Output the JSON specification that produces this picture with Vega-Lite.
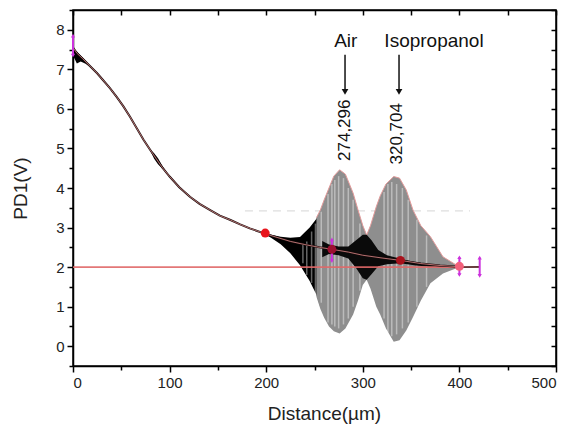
{
  "$schema": "https://vega.github.io/schema/vega-lite/v6.json",
  "width": 483,
  "height": 356,
  "autosize": {"type": "none"},
  "padding": {"left": 73, "top": 10, "right": 15, "bottom": 60},
  "background": "#ffffff",
  "config": {
    "view": {"stroke": "#000000", "strokeWidth": 1.5},
    "axis": {"grid": false, "domainColor": "#000000", "domainWidth": 1.5, "tickColor": "#000000", "tickWidth": 1.5,
      "labelFont": "Liberation Sans", "labelFontSize": 15, "labelColor": "#222222",
      "titleFont": "Liberation Sans", "titleFontSize": 19, "titleFontWeight": "normal", "titleColor": "#222222"}
  },
  "datasets": {
    "mean": [
      {"x": 0, "y": 7.55}, {"x": 4, "y": 7.41}, {"x": 10, "y": 7.27}, {"x": 18, "y": 7.07}, {"x": 25, "y": 6.9},
      {"x": 31, "y": 6.73}, {"x": 38, "y": 6.53}, {"x": 45, "y": 6.31}, {"x": 52, "y": 6.07}, {"x": 59, "y": 5.8},
      {"x": 66, "y": 5.51}, {"x": 73, "y": 5.22}, {"x": 80, "y": 4.96}, {"x": 87, "y": 4.71}, {"x": 93, "y": 4.5},
      {"x": 100, "y": 4.29}, {"x": 110, "y": 4.02}, {"x": 121, "y": 3.78}, {"x": 131, "y": 3.6}, {"x": 142, "y": 3.44},
      {"x": 152, "y": 3.3}, {"x": 163, "y": 3.19}, {"x": 173, "y": 3.08}, {"x": 183, "y": 2.98}, {"x": 197, "y": 2.86},
      {"x": 210, "y": 2.76}, {"x": 225, "y": 2.65}, {"x": 240, "y": 2.57}, {"x": 255, "y": 2.5}, {"x": 268, "y": 2.45},
      {"x": 285, "y": 2.38}, {"x": 300, "y": 2.3}, {"x": 320, "y": 2.23}, {"x": 339, "y": 2.17}, {"x": 360, "y": 2.09},
      {"x": 380, "y": 2.04}, {"x": 400, "y": 2.01}, {"x": 421, "y": 2.0}
    ],
    "blackLow": [
      {"seg": "w1", "x": 1, "hi": 7.5, "lo": 7.3}, {"seg": "w1", "x": 4, "hi": 7.45, "lo": 7.15}, {"seg": "w1", "x": 8, "hi": 7.35, "lo": 7.2},
      {"seg": "w1", "x": 13, "hi": 7.22, "lo": 7.14}, {"seg": "w1", "x": 17, "hi": 7.1, "lo": 7.07},
      {"seg": "w2", "x": 80, "hi": 4.97, "lo": 4.95}, {"seg": "w2", "x": 84, "hi": 4.88, "lo": 4.74}, {"seg": "w2", "x": 88, "hi": 4.75, "lo": 4.6},
      {"seg": "w2", "x": 92, "hi": 4.58, "lo": 4.5}, {"seg": "w2", "x": 96, "hi": 4.43, "lo": 4.41},
      {"seg": "t", "x": 197, "hi": 2.87, "lo": 2.85}, {"seg": "t", "x": 205, "hi": 2.82, "lo": 2.74}, {"seg": "t", "x": 215, "hi": 2.77, "lo": 2.58},
      {"seg": "t", "x": 225, "hi": 2.74, "lo": 2.35}, {"seg": "t", "x": 235, "hi": 2.76, "lo": 2.05}, {"seg": "t", "x": 245, "hi": 3.0, "lo": 1.65},
      {"seg": "t", "x": 252, "hi": 3.22, "lo": 1.3}, {"seg": "t", "x": 256, "hi": 3.4, "lo": 1.0}
    ],
    "grey": [
      {"x": 252, "hi": 3.25, "lo": 1.25}, {"x": 256, "hi": 3.44, "lo": 0.95}, {"x": 260, "hi": 3.7, "lo": 0.72},
      {"x": 265, "hi": 4.0, "lo": 0.5}, {"x": 270, "hi": 4.3, "lo": 0.38}, {"x": 276, "hi": 4.46, "lo": 0.32},
      {"x": 282, "hi": 4.35, "lo": 0.45}, {"x": 290, "hi": 3.87, "lo": 0.8}, {"x": 295, "hi": 3.45, "lo": 1.15},
      {"x": 300, "hi": 3.05, "lo": 1.55}, {"x": 304, "hi": 2.81, "lo": 1.68}, {"x": 308, "hi": 3.05, "lo": 1.45},
      {"x": 314, "hi": 3.53, "lo": 1.0}, {"x": 318, "hi": 3.8, "lo": 0.8}, {"x": 324, "hi": 4.1, "lo": 0.45},
      {"x": 332, "hi": 4.29, "lo": 0.11}, {"x": 338, "hi": 4.25, "lo": 0.15}, {"x": 345, "hi": 3.95, "lo": 0.4},
      {"x": 352, "hi": 3.44, "lo": 0.74}, {"x": 360, "hi": 3.05, "lo": 1.15}, {"x": 370, "hi": 2.77, "lo": 1.59},
      {"x": 383, "hi": 2.26, "lo": 1.84}, {"x": 397, "hi": 2.05, "lo": 1.97}, {"x": 402, "hi": 2.0, "lo": 2.0}
    ],
    "streaks": [
      {"x": 238, "y1": 2.6, "y2": 2.1}, {"x": 242, "y1": 2.65, "y2": 1.8}, {"x": 247, "y1": 2.9, "y2": 1.6},
      {"x": 251, "y1": 3.1, "y2": 1.3}, {"x": 257, "y1": 3.4, "y2": 1.1}, {"x": 264, "y1": 3.85, "y2": 0.6},
      {"x": 268, "y1": 4.1, "y2": 0.55}, {"x": 271, "y1": 4.2, "y2": 0.5}, {"x": 275, "y1": 4.3, "y2": 0.45},
      {"x": 280, "y1": 4.25, "y2": 0.55}, {"x": 285, "y1": 4.0, "y2": 0.7}, {"x": 290, "y1": 3.7, "y2": 1.0},
      {"x": 297, "y1": 3.1, "y2": 1.4}, {"x": 322, "y1": 3.9, "y2": 0.7}, {"x": 326, "y1": 4.1, "y2": 0.35},
      {"x": 330, "y1": 4.15, "y2": 0.25}, {"x": 335, "y1": 4.1, "y2": 0.3}, {"x": 341, "y1": 4.0, "y2": 0.45},
      {"x": 347, "y1": 3.7, "y2": 0.6}, {"x": 356, "y1": 3.2, "y2": 1.0}, {"x": 366, "y1": 2.8, "y2": 1.5}
    ],
    "blackHigh": [
      {"x": 258, "hi": 2.66, "lo": 2.25}, {"x": 265, "hi": 2.57, "lo": 2.33}, {"x": 275, "hi": 2.52, "lo": 2.3},
      {"x": 285, "hi": 2.52, "lo": 2.22}, {"x": 293, "hi": 2.68, "lo": 1.98}, {"x": 300, "hi": 2.82, "lo": 1.72},
      {"x": 304, "hi": 2.82, "lo": 1.68}, {"x": 309, "hi": 2.68, "lo": 1.82}, {"x": 316, "hi": 2.43, "lo": 2.02},
      {"x": 325, "hi": 2.3, "lo": 2.07}, {"x": 339, "hi": 2.21, "lo": 2.1}, {"x": 355, "hi": 2.12, "lo": 2.04},
      {"x": 370, "hi": 2.07, "lo": 2.01}, {"x": 385, "hi": 2.04, "lo": 2.0}, {"x": 400, "hi": 2.0, "lo": 2.0}
    ],
    "hlines": [
      {"kind": "base", "y": 2.0, "x1": 0, "x2": 421},
      {"kind": "dash", "y": 3.42, "x1": 178, "x2": 411}
    ],
    "dots": [
      {"kind": "a", "x": 199, "y": 2.86}, {"kind": "b", "x": 268, "y": 2.45},
      {"kind": "c", "x": 339, "y": 2.17}, {"kind": "d", "x": 400, "y": 2.02}
    ],
    "bars": [
      {"x": 0, "y1": 7.35, "y2": 7.85}, {"x": 268, "y1": 2.15, "y2": 2.7},
      {"x": 400, "y1": 1.8, "y2": 2.25}, {"x": 421, "y1": 1.78, "y2": 2.24}
    ],
    "labels": [
      {"x": 282.4, "y": 7.72, "t": "Air"}, {"x": 373.7, "y": 7.72, "t": "Isopropanol"}
    ],
    "vlabels": [
      {"x": 281.5, "y": 5.46, "t": "274,296"}, {"x": 335.5, "y": 5.37, "t": "320,704"}
    ],
    "arrows": [
      {"x": 281.6, "y1": 7.37, "y2": 6.5, "tip": 6.43}, {"x": 337.5, "y1": 7.37, "y2": 6.5, "tip": 6.43}
    ]
  },
  "resolve": {"axis": {"x": "independent", "y": "independent"}},
  "layer": [
    {
      "data": {"name": "mean"},
      "mark": {"type": "point", "opacity": 0},
      "encoding": {
        "x": {"field": "x", "type": "quantitative", "scale": {"domain": [0, 500], "nice": false, "zero": false},
          "axis": {"orient": "bottom", "title": "Distance(µm)", "values": [0, 50, 100, 150, 200, 250, 300, 350, 400, 450, 500],
            "labelExpr": "datum.value % 100 === 0 ? format(datum.value, 'd') : ''",
            "tickSize": {"condition": {"test": "datum.value % 100 === 0", "value": 6}, "value": 4},
            "labelPadding": 3, "titleY": 47, "titleX": 251, "titleBaseline": "middle"}},
        "y": {"field": "y", "type": "quantitative", "scale": {"domain": [-0.5, 8.5], "nice": false, "zero": false},
          "axis": {"orient": "left", "title": "PD1(V)", "values": [-0.5, 0, 0.5, 1, 1.5, 2, 2.5, 3, 3.5, 4, 4.5, 5, 5.5, 6, 6.5, 7, 7.5, 8, 8.5],
            "labelExpr": "datum.value % 1 === 0 ? format(datum.value, 'd') : ''",
            "tickSize": {"condition": {"test": "datum.value % 1 === 0", "value": 6}, "value": 4},
            "labelPadding": 3, "titleX": -53, "titleBaseline": "middle"}}
      }
    },
    {
      "data": {"name": "mean"},
      "mark": {"type": "point", "opacity": 0},
      "encoding": {
        "x": {"field": "x", "type": "quantitative",
          "axis": {"orient": "top", "title": null, "labels": false, "values": [0, 50, 100, 150, 200, 250, 300, 350, 400, 450, 500], "tickSize": -5}},
        "y": {"field": "y", "type": "quantitative",
          "axis": {"orient": "right", "title": null, "labels": false, "values": [-0.5, 0, 0.5, 1, 1.5, 2, 2.5, 3, 3.5, 4, 4.5, 5, 5.5, 6, 6.5, 7, 7.5, 8, 8.5], "tickSize": -5}}
      }
    },
    {
      "data": {"name": "hlines"},
      "transform": [{"filter": "datum.kind === 'dash'"}],
      "mark": {"type": "rule", "color": "#dedede", "strokeWidth": 1.2, "strokeDash": [8, 6]},
      "encoding": {"y": {"field": "y", "type": "quantitative", "axis": null}, "x": {"field": "x1", "type": "quantitative", "axis": null}, "x2": {"field": "x2"}}
    },
    {
      "data": {"name": "blackLow"},
      "mark": {"type": "area", "color": "#000000"},
      "encoding": {"x": {"field": "x", "type": "quantitative", "axis": null}, "y": {"field": "hi", "type": "quantitative", "axis": null}, "y2": {"field": "lo"}, "detail": {"field": "seg"}}
    },
    {
      "data": {"name": "grey"},
      "mark": {"type": "area", "color": "#8e8e8e"},
      "encoding": {"x": {"field": "x", "type": "quantitative", "axis": null}, "y": {"field": "hi", "type": "quantitative", "axis": null}, "y2": {"field": "lo"}}
    },
    {
      "data": {"name": "grey"},
      "mark": {"type": "line", "color": "#e29a9a", "strokeWidth": 1},
      "encoding": {"x": {"field": "x", "type": "quantitative", "axis": null}, "y": {"field": "hi", "type": "quantitative", "axis": null}}
    },
    {
      "data": {"name": "streaks"},
      "mark": {"type": "rule", "color": "#ffffff", "strokeWidth": 1.5, "opacity": 0.4},
      "encoding": {"x": {"field": "x", "type": "quantitative", "axis": null}, "y": {"field": "y1", "type": "quantitative", "axis": null}, "y2": {"field": "y2"}}
    },
    {
      "data": {"name": "blackHigh"},
      "mark": {"type": "area", "color": "#0a0a0a"},
      "encoding": {"x": {"field": "x", "type": "quantitative", "axis": null}, "y": {"field": "hi", "type": "quantitative", "axis": null}, "y2": {"field": "lo"}}
    },
    {
      "data": {"name": "hlines"},
      "transform": [{"filter": "datum.kind === 'base'"}],
      "mark": {"type": "rule", "color": "#e06868", "strokeWidth": 1.8, "opacity": 0.9},
      "encoding": {"y": {"field": "y", "type": "quantitative", "axis": null}, "x": {"field": "x1", "type": "quantitative", "axis": null}, "x2": {"field": "x2"}}
    },
    {
      "data": {"name": "mean"},
      "mark": {"type": "line", "color": "#1a0a0a", "strokeWidth": 2},
      "encoding": {"x": {"field": "x", "type": "quantitative", "axis": null}, "y": {"field": "y", "type": "quantitative", "axis": null}}
    },
    {
      "data": {"name": "mean"},
      "mark": {"type": "line", "color": "#d88a8a", "strokeWidth": 0.8},
      "encoding": {"x": {"field": "x", "type": "quantitative", "axis": null}, "y": {"field": "y", "type": "quantitative", "axis": null}}
    },
    {
      "data": {"name": "bars"},
      "mark": {"type": "rule", "color": "#cc33dd", "strokeWidth": 2},
      "encoding": {"x": {"field": "x", "type": "quantitative", "axis": null}, "y": {"field": "y1", "type": "quantitative", "axis": null}, "y2": {"field": "y2"}}
    },
    {
      "data": {"name": "bars"},
      "mark": {"type": "point", "shape": "triangle-down", "filled": true, "color": "#cc33dd", "size": 18, "opacity": 1},
      "encoding": {"x": {"field": "x", "type": "quantitative", "axis": null}, "y": {"field": "y1", "type": "quantitative", "axis": null}}
    },
    {
      "data": {"name": "bars"},
      "mark": {"type": "point", "shape": "triangle-up", "filled": true, "color": "#cc33dd", "size": 18, "opacity": 1},
      "encoding": {"x": {"field": "x", "type": "quantitative", "axis": null}, "y": {"field": "y2", "type": "quantitative", "axis": null}}
    },
    {
      "data": {"name": "dots"},
      "mark": {"type": "point", "shape": "circle", "filled": true, "size": 80, "opacity": 1},
      "encoding": {
        "x": {"field": "x", "type": "quantitative", "axis": null},
        "y": {"field": "y", "type": "quantitative", "axis": null},
        "color": {"field": "kind", "type": "nominal", "legend": null,
          "scale": {"domain": ["a", "b", "c", "d"], "range": ["#e8141c", "#9c1030", "#a8121c", "#f2607a"]}}
      }
    },
    {
      "data": {"name": "arrows"},
      "mark": {"type": "rule", "color": "#111111", "strokeWidth": 1.5},
      "encoding": {"x": {"field": "x", "type": "quantitative", "axis": null}, "y": {"field": "y1", "type": "quantitative", "axis": null}, "y2": {"field": "y2"}}
    },
    {
      "data": {"name": "arrows"},
      "mark": {"type": "point", "shape": "triangle-down", "filled": true, "color": "#111111", "size": 45, "opacity": 1},
      "encoding": {"x": {"field": "x", "type": "quantitative", "axis": null}, "y": {"field": "tip", "type": "quantitative", "axis": null}}
    },
    {
      "data": {"name": "labels"},
      "mark": {"type": "text", "font": "Liberation Sans", "fontSize": 19, "color": "#111111", "align": "center", "baseline": "middle"},
      "encoding": {"x": {"field": "x", "type": "quantitative", "axis": null}, "y": {"field": "y", "type": "quantitative", "axis": null}, "text": {"field": "t"}}
    },
    {
      "data": {"name": "vlabels"},
      "mark": {"type": "text", "font": "Liberation Sans", "fontSize": 17, "color": "#111111", "align": "center", "baseline": "middle", "angle": 270},
      "encoding": {"x": {"field": "x", "type": "quantitative", "axis": null}, "y": {"field": "y", "type": "quantitative", "axis": null}, "text": {"field": "t"}}
    }
  ]
}
